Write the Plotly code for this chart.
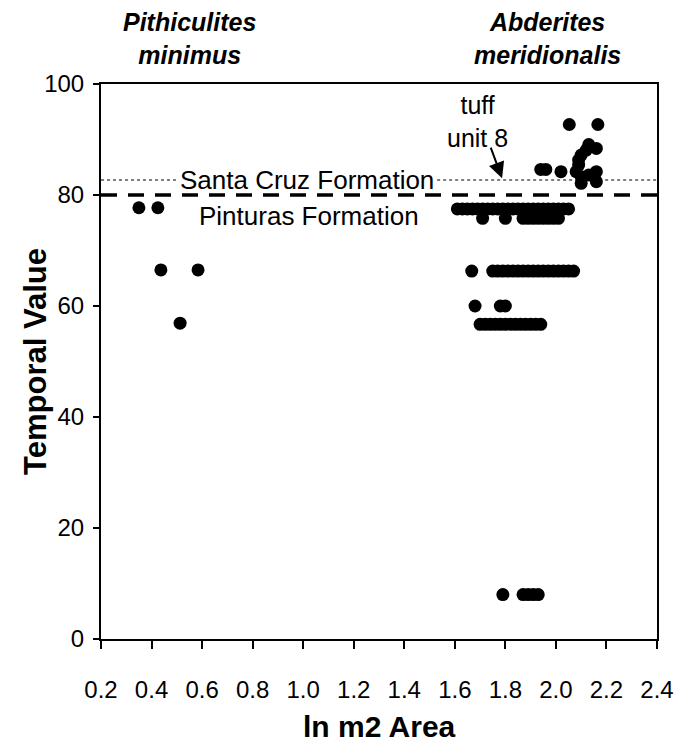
import plotly.graph_objects as go

# Pithiculites minimus
pith_x = [0.35, 0.425, 0.437, 0.584, 0.513]
pith_y = [77.7, 77.7, 66.5, 66.5, 56.9]

# Abderites meridionalis
abd_row1_x = [1.61, 1.63, 1.65, 1.67, 1.69, 1.71, 1.73, 1.75, 1.77, 1.79, 1.81, 1.83,
              1.85, 1.87, 1.89, 1.91, 1.93, 1.95, 1.97, 1.99, 2.01, 2.03, 2.05]
abd_row1_y = [77.5] * len(abd_row1_x)
abd_row2_x = [1.71, 1.80, 1.87, 1.89, 1.91, 1.93, 1.95, 1.97, 1.99, 2.01]
abd_row2_y = [75.8] * len(abd_row2_x)
abd_row3_x = [1.667, 1.75, 1.77, 1.79, 1.81, 1.83, 1.85, 1.87, 1.89, 1.91, 1.93,
              1.95, 1.97, 1.99, 2.01, 2.03, 2.05, 2.07]
abd_row3_y = [66.3] * len(abd_row3_x)
abd_row4_x = [1.68, 1.78, 1.80]
abd_row4_y = [60.0, 60.0, 60.0]
abd_row5_x = [1.70, 1.72, 1.74, 1.76, 1.78, 1.80, 1.82, 1.84, 1.86, 1.88, 1.90, 1.92, 1.94]
abd_row5_y = [56.7] * len(abd_row5_x)
abd_row6_x = [1.79, 1.87, 1.89, 1.91, 1.93]
abd_row6_y = [8.0] * len(abd_row6_x)
abd_upper_x = [2.053, 2.166, 1.94, 1.96, 2.02, 2.13, 2.16, 2.12, 2.10, 2.09, 2.09,
               2.08, 2.10, 2.10, 2.13, 2.16, 2.16]
abd_upper_y = [92.7, 92.7, 84.6, 84.6, 84.2, 89.1, 88.4, 88.1, 87.2, 86.3, 85.4,
               84.2, 83.3, 82.1, 83.6, 84.2, 82.4]

abd_x = abd_row1_x + abd_row2_x + abd_row3_x + abd_row4_x + abd_row5_x + abd_row6_x + abd_upper_x
abd_y = abd_row1_y + abd_row2_y + abd_row3_y + abd_row4_y + abd_row5_y + abd_row6_y + abd_upper_y

boundary_pinturas = 80.0
boundary_santacruz = 82.7
label_gap = [0.505, 1.53]   # gap in the dotted line where its label sits
x_ticks = [0.2, 0.4, 0.6, 0.8, 1.0, 1.2, 1.4, 1.6, 1.8, 2.0, 2.2, 2.4]
y_ticks = [0, 20, 40, 60, 80, 100]

FONT = "Liberation Sans, Arial, sans-serif"

fig = go.Figure()
fig.add_trace(go.Scatter(x=pith_x, y=pith_y, mode="markers",
                         marker=dict(color="black", size=13), showlegend=False,
                         cliponaxis=False))
fig.add_trace(go.Scatter(x=abd_x, y=abd_y, mode="markers",
                         marker=dict(color="black", size=13), showlegend=False,
                         cliponaxis=False))

# boundary lines
fig.add_shape(type="line", xref="x", x0=0.2, x1=label_gap[0], yref="y",
              y0=boundary_santacruz, y1=boundary_santacruz,
              line=dict(color="black", width=1, dash="dot"), layer="below")
fig.add_shape(type="line", xref="x", x0=label_gap[1], x1=2.4, yref="y",
              y0=boundary_santacruz, y1=boundary_santacruz,
              line=dict(color="black", width=1, dash="dot"), layer="below")
fig.add_shape(type="line", xref="paper", x0=0, x1=1, yref="y",
              y0=boundary_pinturas, y1=boundary_pinturas,
              line=dict(color="black", width=3.5, dash="16px,11px"), layer="below")

fig.add_annotation(x=1.015, y=boundary_santacruz, text="Santa Cruz Formation",
                   showarrow=False,
                   font=dict(family=FONT, size=26, color="black"))
fig.add_annotation(x=1.023, y=76.2, text="Pinturas Formation",
                   showarrow=False,
                   font=dict(family=FONT, size=26, color="black"))
fig.add_annotation(x=1.787, y=83.0, ax=1.74, ay=88.8, axref="x", ayref="y",
                   text="", showarrow=True, arrowhead=2, arrowsize=1.6,
                   arrowwidth=2, arrowcolor="black")
fig.add_annotation(x=1.69, y=93.3, text="tuff<br>unit 8", showarrow=False,
                   font=dict(family=FONT, size=25, color="black"))

fig.add_annotation(xref="x", yref="paper", x=0.552, y=1.0, yshift=13, yanchor="bottom",
                   text="<b><i>Pithiculites<br>minimus</i></b>", showarrow=False,
                   font=dict(family=FONT, size=25, color="black"))
fig.add_annotation(xref="x", yref="paper", x=1.965, y=1.0, yshift=13, yanchor="bottom",
                   text="<b><i>Abderites<br>meridionalis</i></b>", showarrow=False,
                   font=dict(family=FONT, size=25, color="black"))

# axis titles
fig.add_annotation(xref="paper", yref="paper", x=-0.118, y=0.5, textangle=-90,
                   xanchor="center", yanchor="middle",
                   text="<b>Temporal Value</b>", showarrow=False,
                   font=dict(family=FONT, size=31, color="black"))
fig.add_annotation(xref="paper", yref="paper", x=0.5, y=-0.158,
                   xanchor="center", yanchor="middle",
                   text="<b>ln m2 Area</b>", showarrow=False,
                   font=dict(family=FONT, size=30, color="black"))

fig.update_layout(
    width=697, height=747,
    margin=dict(l=101, r=40, t=84, b=108),
    plot_bgcolor="white", paper_bgcolor="white",
    font=dict(family=FONT, color="black"),
)
fig.update_xaxes(range=[0.2, 2.4], tickvals=x_ticks, tickformat=".1f",
                 showgrid=False, zeroline=False, automargin=False,
                 showline=True, linecolor="black", linewidth=2, mirror=True,
                 ticks="outside", ticklen=8, tickwidth=2, tickcolor="black",
                 ticklabelstandoff=20,
                 tickfont=dict(family=FONT, size=24, color="black"))
fig.update_yaxes(range=[0, 100], tickvals=y_ticks,
                 showgrid=False, zeroline=False, automargin=False,
                 showline=True, linecolor="black", linewidth=2, mirror=True,
                 ticks="outside", ticklen=6, tickwidth=2, tickcolor="black",
                 ticklabelstandoff=4,
                 tickfont=dict(family=FONT, size=24, color="black"))

fig.write_html("out.html")
